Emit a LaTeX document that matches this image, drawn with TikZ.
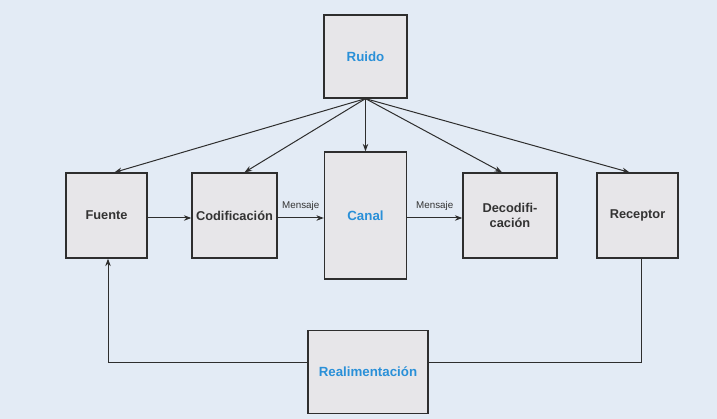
\documentclass[tikz,border=0pt]{standalone}
\usepackage{fontspec}
\setmainfont{Liberation Sans}
\usetikzlibrary{arrows.meta}
\definecolor{bgblue}{HTML}{E3EBF5}
\definecolor{boxfill}{HTML}{E7E6E9}
\definecolor{boxline}{HTML}{2E2E2E}
\definecolor{txtgray}{HTML}{333333}
\definecolor{accent}{HTML}{2A90D8}
\tikzset{
  block/.style={draw=boxline, line width=1.3pt, fill=boxfill, inner sep=0pt,
    align=center, font=\fontsize{12.8}{15}\selectfont\bfseries, text=txtgray},
  keyblock/.style={block, text=accent, font=\fontsize{13.3}{15}\selectfont\bfseries},
  link/.style={draw=boxline, line width=1pt, -{Stealth[length=7.5pt,width=5.5pt]}},
  plain/.style={draw=boxline, line width=1pt},
  msg/.style={font=\fontsize{9.8}{11}\selectfont, text=txtgray, inner sep=0pt}
}
\begin{document}
\begin{tikzpicture}[x=1pt, y=-1pt]
  \fill[bgblue] (0,0) rectangle (717,419);
  \useasboundingbox (0,0) rectangle (717,419);

  \node[keyblock, minimum width=83pt, minimum height=83pt] (ruido) at (365.5,56.5) {Ruido};
  \node[block, minimum width=81pt, minimum height=85pt] (fuente) at (106.5,215.5) {Fuente};
  \node[block, minimum width=85pt, minimum height=85pt] (codif) at (234.5,215.5) {Codificación};
  \node[keyblock, minimum width=82pt, minimum height=127pt] (canal) at (365.5,215.5) {Canal};
  \node[block, minimum width=94pt, minimum height=85pt] (decod) at (510,215.5) {Decodifi-\\cación};
  \node[block, minimum width=81pt, minimum height=85pt] (recep) at (637.5,215.5) {Receptor};
  \node[keyblock, minimum width=120pt, minimum height=83pt] (realim) at (368,372) {Realimentación};

  % noise fans out to every stage
  \draw[link] (ruido.south) -- ([xshift=8pt]fuente.north);
  \draw[link] (ruido.south) -- ([xshift=10pt]codif.north);
  \draw[link] (ruido.south) -- (canal.north);
  \draw[link] (ruido.south) -- ([xshift=-8pt]decod.north);
  \draw[link] (ruido.south) -- ([xshift=-8pt]recep.north);

  % main chain
  \draw[link] ([yshift=-2.5pt]fuente.east) -- ([yshift=-2.5pt]codif.west);
  \draw[link] ([yshift=-2.5pt]codif.east) -- node[msg, above=7pt] (m1) {Mensaje} ([yshift=-2.5pt]canal.west);
  \draw[link] ([yshift=-2.5pt]canal.east) -- node[msg, above=7pt] (m2) {Mensaje} ([yshift=-2.5pt]decod.west);

  % feedback loop
  \draw[plain] ([xshift=3.5pt]recep.south) |- ([yshift=10pt]realim.east);
  \draw[link] ([yshift=10pt]realim.west) -| ([xshift=1.5pt]fuente.south);
\end{tikzpicture}
\end{document}
